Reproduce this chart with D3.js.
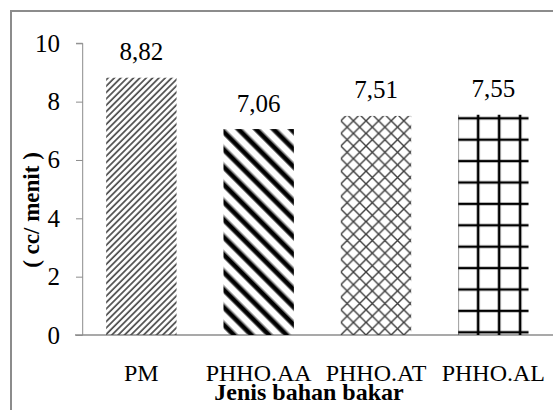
<!DOCTYPE html>
<html>
<head>
<meta charset="utf-8">
<script src="https://cdn.jsdelivr.net/npm/d3@7"></script>
<style>
  body { margin: 0; background: #fff; }
  svg { display: block; }
</style>
</head>
<body>
<svg id="chart" width="553" height="410"></svg>
<script>
const categories = ['PM', 'PHHO.AA', 'PHHO.AT', 'PHHO.AL'];
const values = [8.82, 7.06, 7.51, 7.55];
const valueLabels = ['8,82', '7,06', '7,51', '7,55'];
const yTicks = [0, 2, 4, 6, 8, 10];
const patternIds = ['pm', 'aa', 'at', 'al'];

const width = 553, height = 410;
const plotLeft = 82.7, plotRight = 552, plotTop = 43.3, plotBottom = 335;

const svg = d3.select('#chart');

svg.append('rect')
  .attr('width', width).attr('height', height)
  .attr('fill', '#fff');

// outer frame (runs off the right and bottom edge)
svg.append('rect')
  .attr('x', 11).attr('y', 11)
  .attr('width', 700).attr('height', 600)
  .attr('fill', 'none')
  .attr('stroke', '#8c8c8c')
  .attr('stroke-width', 2);

const x = d3.scaleBand().domain(categories).range([plotLeft, plotRight]).paddingInner(0.4).paddingOuter(0.2);
const y = d3.scaleLinear().domain([0, 10]).range([plotBottom, plotTop]);

// hatch patterns
const defs = svg.append('defs');

const pm = defs.append('pattern')
  .attr('id', 'pm').attr('patternUnits', 'userSpaceOnUse')
  .attr('width', 4.5).attr('height', 4.5)
  .attr('patternTransform', 'rotate(45)');
pm.append('line').attr('x1', 1).attr('y1', 0).attr('x2', 1).attr('y2', 4.5)
  .attr('stroke', '#4a4a4a').attr('stroke-width', 1.7);

const aa = defs.append('pattern')
  .attr('id', 'aa').attr('patternUnits', 'userSpaceOnUse')
  .attr('width', 12.4).attr('height', 12.4)
  .attr('patternTransform', 'rotate(-45)');
aa.append('line').attr('x1', 3).attr('y1', 0).attr('x2', 3).attr('y2', 12.4)
  .attr('stroke', '#777').attr('stroke-width', 6.5);
aa.append('line').attr('x1', 3).attr('y1', 0).attr('x2', 3).attr('y2', 12.4)
  .attr('stroke', '#000').attr('stroke-width', 3.8);

const at = defs.append('pattern')
  .attr('id', 'at').attr('patternUnits', 'userSpaceOnUse')
  .attr('x', x('PHHO.AT')).attr('y', plotBottom)
  .attr('width', 12.6).attr('height', 12.6);
at.append('path').attr('d', 'M0,0L12.6,12.6M12.6,0L0,12.6')
  .attr('stroke', '#3c3c3c').attr('stroke-width', 1.4).attr('fill', 'none');

const al = defs.append('pattern')
  .attr('id', 'al').attr('patternUnits', 'userSpaceOnUse')
  .attr('x', x('PHHO.AL') + 20).attr('y', plotBottom - 2.7)
  .attr('width', 21).attr('height', 21.4);
al.append('path').attr('d', 'M0,0V21.4M0,0H21M21,0V21.4M0,21.4H21')
  .attr('stroke', '#000').attr('stroke-width', 2.6).attr('fill', 'none');

// axes
const yAxis = svg.append('g')
  .attr('transform', `translate(${plotLeft},0)`)
  .call(d3.axisLeft(y).tickValues(yTicks).tickSize(6.7).tickPadding(16).tickFormat(d3.format('d')));
yAxis.select('.domain').attr('stroke', '#8c8c8c').attr('d', `M-6.7,${plotTop}H0V${plotBottom}`);
yAxis.selectAll('.tick line').attr('stroke', '#8c8c8c');
yAxis.selectAll('.tick text')
  .attr('fill', '#000')
  .style('font-family', '"Liberation Serif", "Times New Roman", serif')
  .style('font-size', '25px');

svg.append('line')
  .attr('x1', plotLeft - 7.7).attr('x2', width)
  .attr('y1', plotBottom).attr('y2', plotBottom)
  .attr('stroke', '#8c8c8c').attr('stroke-width', 1.3);

// bars
svg.append('g').selectAll('rect')
  .data(categories)
  .join('rect')
  .attr('x', d => x(d))
  .attr('width', x.bandwidth())
  .attr('y', (d, i) => y(values[i]))
  .attr('height', (d, i) => y(0) - y(values[i]))
  .attr('fill', (d, i) => `url(#${patternIds[i]})`);

// value labels
svg.append('g').selectAll('text')
  .data(categories)
  .join('text')
  .attr('x', d => x(d) + x.bandwidth() / 2)
  .attr('y', (d, i) => y(values[i]) - 17.5)
  .attr('text-anchor', 'middle')
  .style('font-family', '"Liberation Serif", "Times New Roman", serif')
  .style('font-size', '25px')
  .text((d, i) => valueLabels[i]);

// category labels
svg.append('g').selectAll('text')
  .data(categories)
  .join('text')
  .attr('x', d => x(d) + x.bandwidth() / 2)
  .attr('y', 381)
  .attr('text-anchor', 'middle')
  .style('font-family', '"Liberation Serif", "Times New Roman", serif')
  .style('font-size', '24px')
  .text(d => d);

// axis titles
svg.append('text')
  .attr('x', 309).attr('y', 400)
  .attr('text-anchor', 'middle')
  .style('font-family', '"Liberation Serif", "Times New Roman", serif')
  .style('font-size', '24px')
  .style('font-weight', 'bold')
  .text('Jenis bahan bakar');

svg.append('text')
  .attr('transform', 'translate(39.3,210) rotate(-90)')
  .attr('text-anchor', 'middle')
  .style('font-family', '"Liberation Serif", "Times New Roman", serif')
  .style('font-size', '23px')
  .style('font-weight', 'bold')
  .text('( cc/ menit )');
</script>
</body>
</html>
